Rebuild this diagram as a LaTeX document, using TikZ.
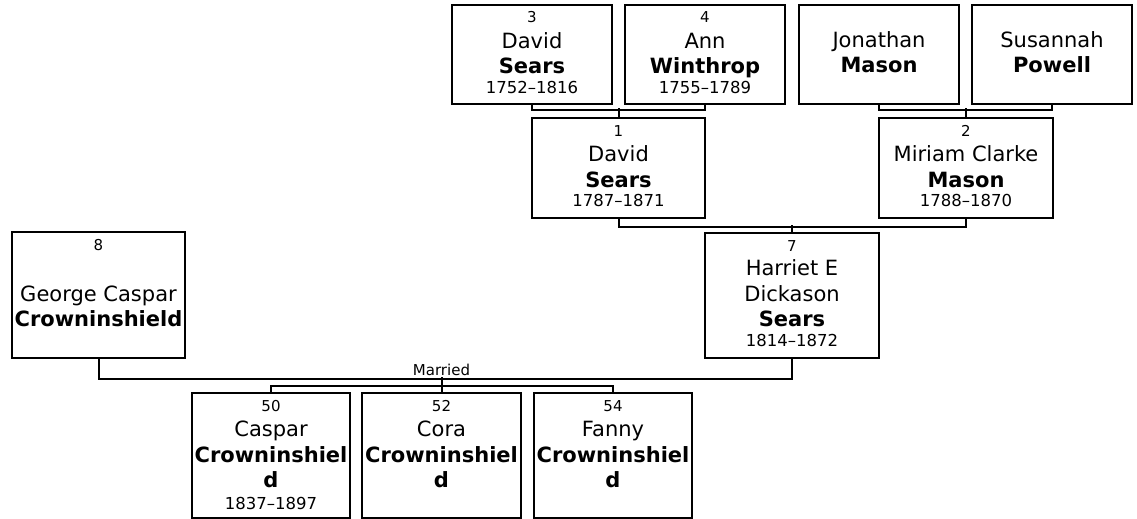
\documentclass[tikz,border=0pt]{standalone}
\usepackage{fontspec}
\setmainfont{DejaVu Sans}
\begin{document}
\begin{tikzpicture}[x=1pt,y=-1pt,
  box/.style={draw=black,line width=2pt,rectangle,inner sep=0pt,fill=white},
  conn/.style={draw=black,line width=2pt},
  num/.style={anchor=base,inner sep=0pt,font=\fontsize{15}{18}\selectfont},
  nm/.style={anchor=base,inner sep=0pt,font=\fontsize{21}{25}\selectfont},
  bnm/.style={anchor=base,inner sep=0pt,font=\fontsize{21}{25}\selectfont\bfseries},
  dt/.style={anchor=base,inner sep=0pt,font=\fontsize{16.5}{19}\selectfont},
  lbl/.style={anchor=base,inner sep=0pt,font=\fontsize{15}{18}\selectfont}]
\useasboundingbox (0,0) rectangle (1137,519);
% boxes (border centres)
\node[box,minimum width=160pt,minimum height=99pt] (b3) at (532,54.5) {};
\node[box,minimum width=160pt,minimum height=99pt] (b4) at (705,54.5) {};
\node[box,minimum width=160pt,minimum height=99pt] (bJ) at (879,54.5) {};
\node[box,minimum width=160pt,minimum height=99pt] (bS) at (1052,54.5) {};
\node[box,minimum width=173pt,minimum height=100pt] (b1) at (618.5,168) {};
\node[box,minimum width=174pt,minimum height=100pt] (b2) at (966,168) {};
\node[box,minimum width=174pt,minimum height=125pt] (b7) at (792,295.5) {};
\node[box,minimum width=173pt,minimum height=126pt] (b8) at (98.5,295) {};
\node[box,minimum width=158pt,minimum height=125pt] (b50) at (271,455.5) {};
\node[box,minimum width=159pt,minimum height=125pt] (b52) at (441.5,455.5) {};
\node[box,minimum width=158pt,minimum height=125pt] (b54) at (613,455.5) {};
% connectors
\draw[conn] (b3.south) -- ++(0,5) -| (b4.south);
\draw[conn] (b1.north) -- ++(0,-9);
\draw[conn] (bJ.south) -- ++(0,5) -| (bS.south);
\draw[conn] (b2.north) -- ++(0,-9);
\draw[conn] (b1.south) -- ++(0,8) -| (b2.south);
\draw[conn] (b7.north) -- ++(0,-7);
\draw[conn] (b8.south) -- ++(0,20) -| (b7.south);
\draw[conn] (b52.north) -- ++(0,-15);
\draw[conn] (b50.north) -- ++(0,-6) -| (b54.north);
\node[lbl] (married) at (441.5,375) {Married};
% texts
\node[num] (t3n) at (532,23) {3};
\node[nm] (t3a) at (532,48.5) {David};
\node[bnm] (t3b) at (532,74) {Sears};
\node[dt] (t3d) at (532,93.5) {1752–1816};
\node[num] (t4n) at (705,23) {4};
\node[nm] (t4a) at (705,48.5) {Ann};
\node[bnm] (t4b) at (705,74) {Winthrop};
\node[dt] (t4d) at (705,93.5) {1755–1789};
\node[nm] (tJa) at (879,47.5) {Jonathan};
\node[bnm] (tJb) at (879,73) {Mason};
\node[nm] (tSa) at (1052,47.5) {Susannah};
\node[bnm] (tSb) at (1052,73) {Powell};
\node[num] (t1n) at (618.5,136) {1};
\node[nm] (t1a) at (618.5,161.5) {David};
\node[bnm] (t1b) at (618.5,187) {Sears};
\node[dt] (t1d) at (618.5,206.5) {1787–1871};
\node[num] (t2n) at (966,136) {2};
\node[nm] (t2a) at (966,161) {Miriam Clarke};
\node[bnm] (t2b) at (966,187) {Mason};
\node[dt] (t2d) at (966,206.5) {1788–1870};
\node[num] (t7n) at (792,251) {7};
\node[nm] (t7a) at (792,275.5) {Harriet E};
\node[nm] (t7b) at (792,301) {Dickason};
\node[bnm] (t7c) at (792,326.5) {Sears};
\node[dt] (t7d) at (792,346.5) {1814–1872};
\node[num] (t8n) at (98.5,250) {8};
\node[nm] (t8a) at (98.5,301) {George Caspar};
\node[bnm] (t8b) at (98.5,326.5) {Crowninshield};
\node[num] (t50n) at (271,411.5) {50};
\node[nm] (t50a) at (271,436.7) {Caspar};
\node[bnm] (t50b) at (271,462.3) {Crowninshiel};
\node[bnm] (t50c) at (271,487.3) {d};
\node[dt] (t50d) at (271,509) {1837–1897};
\node[num] (t52n) at (441.5,411.5) {52};
\node[nm] (t52a) at (441.5,436.7) {Cora};
\node[bnm] (t52b) at (441.5,462.3) {Crowninshiel};
\node[bnm] (t52c) at (441.5,487.3) {d};
\node[num] (t54n) at (613,411.5) {54};
\node[nm] (t54a) at (613,436.7) {Fanny};
\node[bnm] (t54b) at (613,462.3) {Crowninshiel};
\node[bnm] (t54c) at (613,487.3) {d};
\end{tikzpicture}
\end{document}
